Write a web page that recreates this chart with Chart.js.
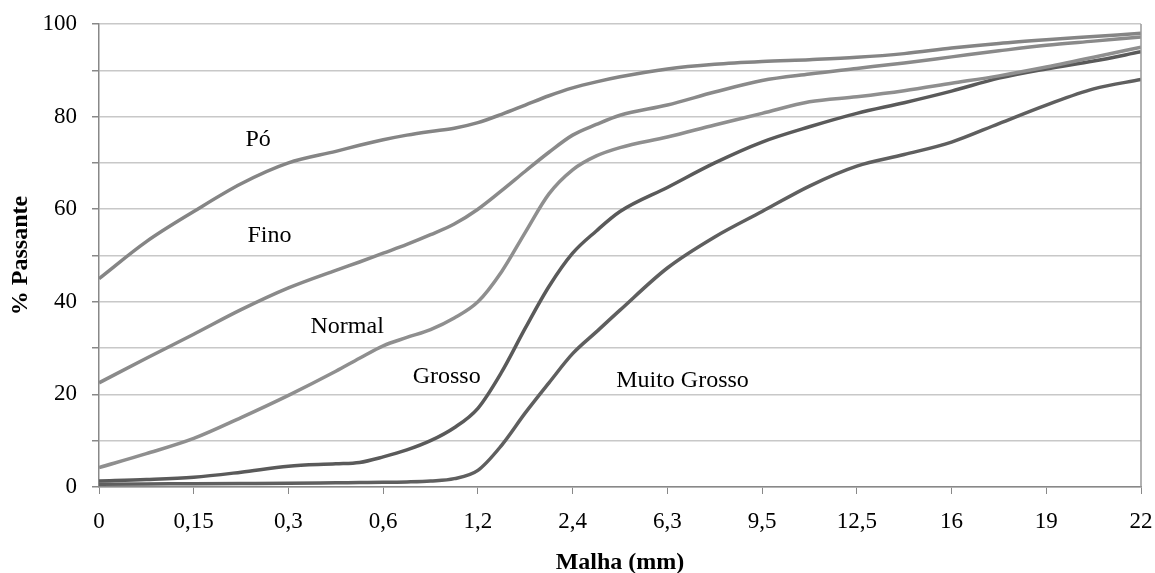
<!DOCTYPE html>
<html>
<head>
<meta charset="utf-8">
<script src="https://cdn.jsdelivr.net/npm/chart.js@4"></script>
<style>
  html, body { margin: 0; padding: 0; background: #fff; }
  #wrap { width: 1155px; height: 573px; }
</style>
</head>
<body>
<div id="wrap"><canvas id="chart" width="1155" height="573"></canvas></div>
<script>
// Sieve sizes shown on the x axis (evenly spaced categories)
const malhaLabels = ['0', '0,15', '0,3', '0,6', '1,2', '2,4', '6,3', '9,5', '12,5', '16', '19', '22'];

// Sample positions along the axis (in category steps)
const posicoes = [0, 0.5, 1, 1.5, 2, 2.5, 2.75, 3, 3.25, 3.5, 3.75, 4, 4.25, 4.5, 4.75, 5, 5.25, 5.5, 6, 6.5, 7, 7.5, 8, 8.5, 9, 9.5, 10, 10.5, 11];

// % passante per curve
const po = [45, 53, 59.5, 65.5, 70, 72.5, 73.8, 75, 76, 76.8, 77.5, 78.7, 80.5, 82.5, 84.5, 86.2, 87.5, 88.6, 90.3, 91.3, 91.9, 92.3, 92.8, 93.6, 94.8, 95.8, 96.6, 97.3, 98];
const fino = [22.5, 27.8, 33, 38.3, 43, 46.8, 48.6, 50.5, 52.4, 54.5, 56.8, 60, 64, 68.2, 72.3, 76, 78.3, 80.3, 82.5, 85.3, 87.8, 89.2, 90.4, 91.6, 92.9, 94.2, 95.4, 96.3, 97.2];
const normal = [4.2, 7.2, 10.5, 15, 19.8, 25, 27.8, 30.5, 32.3, 34, 36.5, 40, 46.5, 55, 63.3, 68.5, 71.5, 73.3, 75.6, 78.2, 80.7, 83.2, 84.3, 85.6, 87.2, 88.8, 90.7, 92.8, 95];
const grosso = [1.3, 1.6, 2.1, 3.2, 4.5, 5, 5.3, 6.5, 8, 10, 12.8, 17, 24.8, 34.3, 43.3, 50.5, 55.3, 59.5, 64.7, 70, 74.5, 77.8, 80.7, 83, 85.5, 88.3, 90.3, 92, 94];
const muitoGrosso = [0.6, 0.65, 0.7, 0.75, 0.8, 0.9, 0.95, 1.0, 1.1, 1.3, 1.8, 3.6, 9, 16, 22.5, 28.8, 33.5, 38.2, 47.3, 54, 59.5, 65, 69.3, 71.8, 74.5, 78.5, 82.5, 86, 88];

function pontos(valores) {
    return valores.map((v, i) => ({ x: posicoes[i], y: v }));
}

function serie(nome, valores, cor) {
    return {
        label: nome,
        data: pontos(valores),
        borderColor: cor,
        borderWidth: 3.5,
        pointRadius: 0,
        fill: false,
        cubicInterpolationMode: 'monotone'
    };
}

// curve names written next to the lines + right border of the plot
const rotulosPlugin = {
    id: 'rotulos',
    afterDatasetsDraw(chart) {
        const ctx = chart.ctx;
        const xs = chart.scales.x, ys = chart.scales.y;
        const itens = [
            ['Pó', 1.68, 75.1],
            ['Fino', 1.80, 54.2],
            ['Normal', 2.62, 34.7],
            ['Grosso', 3.67, 23.9],
            ['Muito Grosso', 6.16, 23.0]
        ];
        ctx.save();
        ctx.font = '24px "Liberation Serif"';
        ctx.fillStyle = '#000';
        ctx.textAlign = 'center';
        ctx.textBaseline = 'middle';
        itens.forEach(([t, x, y]) => ctx.fillText(t, xs.getPixelForValue(x), ys.getPixelForValue(y)));
        const a = chart.chartArea;
        ctx.strokeStyle = '#999';
        ctx.lineWidth = 1.5;
        ctx.beginPath();
        ctx.moveTo(a.right, a.top);
        ctx.lineTo(a.right, a.bottom);
        ctx.stroke();
        ctx.restore();
    }
};

const ctx = document.getElementById('chart').getContext('2d');

new Chart(ctx, {
    type: 'line',
    data: {
        datasets: [
            serie('Pó', po, '#858585'),
            serie('Fino', fino, '#8a8a8a'),
            serie('Normal', normal, '#8f8f8f'),
            serie('Grosso', grosso, '#5a5a5a'),
            serie('Muito Grosso', muitoGrosso, '#5f5f5f')
        ]
    },
    options: {
        responsive: false,
        animation: false,
        layout: { padding: { top: 24, right: 14, left: 0, bottom: 0 } },
        plugins: {
            legend: { display: false },
            tooltip: { enabled: false }
        },
        scales: {
            x: {
                type: 'linear',
                min: 0,
                max: 11,
                afterFit(scale) {
                    scale.height = 86;
                    scale.paddingLeft = 0;
                    scale.paddingRight = 0;
                },
                ticks: {
                    stepSize: 1,
                    padding: 14,
                    color: '#000',
                    font: { family: 'Liberation Serif', size: 23 },
                    maxRotation: 0,
                    callback: (v) => malhaLabels[v]
                },
                grid: { drawOnChartArea: false, drawTicks: true, tickLength: 7, tickColor: '#888' },
                border: { color: '#888', width: 1.5 },
                title: {
                    display: true,
                    text: 'Malha (mm)',
                    color: '#000',
                    font: { family: 'Liberation Serif', size: 24, weight: 'bold', lineHeight: 1 },
                    padding: { top: 0, bottom: -2 }
                }
            },
            y: {
                min: 0,
                max: 100,
                afterFit(scale) {
                    scale.width = 99;
                    scale.paddingTop = 0;
                    scale.paddingBottom = 0;
                },
                ticks: {
                    stepSize: 10,
                    padding: 15,
                    color: '#000',
                    font: { family: 'Liberation Serif', size: 23 },
                    callback: (v) => (v % 20 === 0 ? v : '')
                },
                grid: { color: '#c8c8c8', lineWidth: 1.5, tickLength: 7, tickColor: '#888' },
                border: { color: '#888', width: 1.5 },
                title: {
                    display: true,
                    text: '% Passante',
                    color: '#000',
                    font: { family: 'Liberation Serif', size: 24, weight: 'bold', lineHeight: 1 },
                    padding: { top: 9, bottom: 0 }
                }
            }
        }
    },
    plugins: [rotulosPlugin]
});
</script>
</body>
</html>
